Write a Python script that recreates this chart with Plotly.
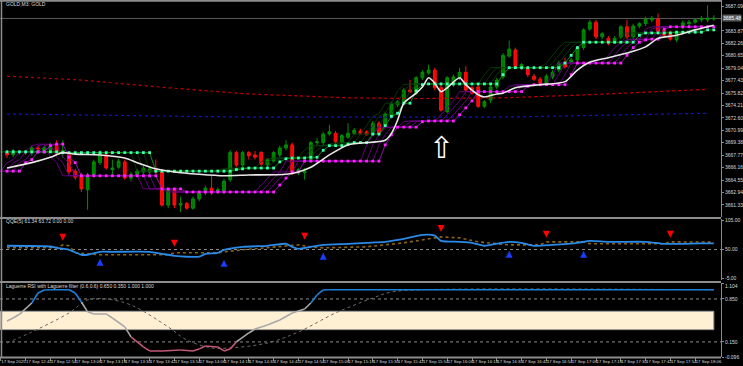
import plotly.graph_objects as go
import pandas as pd

# ---------------- data ----------------
bar_start = "2025-09-17 12:33"
n_bars = 115
times = pd.date_range(bar_start, periods=n_bars, freq="3min")

opens = [3668.2, 3667.8, 3668.1, 3668.2, 3668.1, 3668.7, 3668.4, 3668.4, 3669.1, 3668.2,
         3667.8, 3665.7, 3665.2, 3663.3, 3665.2, 3666.8, 3667.8, 3665.9, 3666.2, 3666.9,
         3664.8, 3665.2, 3665.6, 3665.6, 3666.0, 3665.6, 3661.3, 3663.3, 3661.3, 3661.5,
         3660.9, 3662.1, 3662.9, 3663.5, 3663.0, 3663.0, 3664.6, 3668.1, 3666.5, 3668.1,
         3667.8, 3668.1, 3666.5, 3667.0, 3667.8, 3668.7, 3669.1, 3665.5, 3665.5, 3667.2,
         3669.4, 3669.4, 3670.5, 3670.6, 3669.4, 3670.1, 3670.6, 3670.9, 3670.8, 3670.5,
         3671.9, 3671.6, 3672.7, 3674.3, 3674.7, 3676.2, 3675.8, 3677.8, 3678.4, 3678.8,
         3676.5, 3673.4, 3676.9, 3677.8, 3678.5, 3676.5, 3676.6, 3674.1, 3674.9, 3676.6,
         3677.9, 3680.6, 3681.4, 3679.1, 3679.1, 3678.0, 3677.6, 3677.1, 3677.9, 3678.8,
         3679.8, 3679.8, 3680.1, 3681.7, 3684.1, 3685.0, 3683.1, 3682.9, 3682.4, 3683.1,
         3684.4, 3683.1, 3684.5, 3684.8, 3685.3, 3685.4, 3684.0, 3683.6, 3682.7, 3684.4,
         3684.8, 3685.0, 3685.3, 3685.3, 3685.4]
closes = [3667.8, 3668.3, 3668.2, 3668.1, 3668.7, 3668.6, 3668.7, 3669.0, 3668.2, 3668.4,
          3665.6, 3664.9, 3663.4, 3665.2, 3666.9, 3668.1, 3666.1, 3666.1, 3667.0, 3664.8,
          3665.3, 3665.7, 3666.1, 3666.0, 3665.6, 3661.3, 3663.3, 3661.3, 3661.5, 3660.9,
          3662.1, 3662.9, 3663.5, 3662.9, 3663.3, 3664.4, 3668.1, 3666.5, 3668.1, 3667.7,
          3667.5, 3666.6, 3667.2, 3668.1, 3668.7, 3669.1, 3665.5, 3665.9, 3665.7, 3669.4,
          3669.5, 3670.5, 3670.8, 3669.5, 3670.3, 3670.6, 3671.0, 3670.6, 3670.5, 3671.9,
          3670.6, 3673.1, 3674.4, 3674.7, 3676.2, 3676.0, 3677.8, 3678.5, 3678.8, 3676.5,
          3673.6, 3677.8, 3677.9, 3678.5, 3676.2, 3675.8, 3674.1, 3674.7, 3676.6, 3677.5,
          3680.7, 3681.5, 3679.2, 3679.5, 3678.2, 3677.6, 3677.1, 3678.0, 3678.5, 3679.7,
          3679.2, 3680.1, 3681.7, 3684.0, 3685.0, 3683.1, 3683.5, 3682.3, 3682.9, 3684.4,
          3683.1, 3684.5, 3684.8, 3685.4, 3685.5, 3683.7, 3683.3, 3682.8, 3683.6, 3684.9,
          3685.0, 3685.3, 3685.5, 3685.5, 3685.5]
highs = [3668.4, 3668.6, 3668.4, 3668.4, 3669.0, 3669.0, 3669.0, 3669.4, 3669.7, 3669.7,
         3668.1, 3666.0, 3665.5, 3665.5, 3667.2, 3668.4, 3668.1, 3667.2, 3667.3, 3667.2,
         3665.6, 3666.0, 3666.4, 3666.2, 3667.2, 3665.9, 3663.5, 3663.5, 3662.4, 3661.7,
         3662.4, 3663.1, 3663.8, 3665.2, 3663.6, 3664.7, 3668.4, 3668.3, 3668.3, 3668.3,
         3668.3, 3668.3, 3667.4, 3668.3, 3669.0, 3669.7, 3669.4, 3666.1, 3666.1, 3669.6,
         3670.0, 3670.8, 3671.7, 3670.9, 3670.5, 3671.9, 3671.3, 3671.2, 3671.0, 3672.2,
         3672.2, 3673.4, 3674.7, 3674.9, 3676.5, 3677.5, 3678.0, 3678.8, 3679.5, 3679.1,
         3676.9, 3678.0, 3678.2, 3679.1, 3679.3, 3676.7, 3676.9, 3674.9, 3676.9, 3677.8,
         3681.0, 3682.6, 3681.7, 3679.7, 3679.3, 3678.3, 3677.9, 3678.3, 3678.8, 3680.0,
         3680.4, 3680.4, 3681.9, 3684.2, 3685.3, 3685.3, 3683.7, 3683.2, 3683.2, 3684.6,
         3685.3, 3684.8, 3685.0, 3685.7, 3685.8, 3686.1, 3684.2, 3683.9, 3683.9, 3685.2,
         3685.3, 3685.5, 3685.8, 3687.2, 3685.9]
lows = [3667.4, 3667.5, 3667.8, 3667.8, 3667.7, 3668.3, 3668.2, 3668.2, 3667.9, 3667.4,
        3665.3, 3664.6, 3663.0, 3660.7, 3664.9, 3666.5, 3665.9, 3665.2, 3666.0, 3664.6,
        3664.4, 3664.9, 3665.3, 3665.3, 3665.3, 3661.1, 3660.9, 3660.9, 3660.4, 3660.7,
        3660.7, 3661.8, 3662.6, 3662.6, 3662.8, 3662.8, 3664.3, 3666.2, 3666.2, 3667.2,
        3667.2, 3666.4, 3666.2, 3666.8, 3667.5, 3668.4, 3665.2, 3665.2, 3664.6, 3666.9,
        3669.1, 3669.1, 3670.3, 3669.2, 3669.1, 3669.9, 3670.4, 3670.4, 3670.3, 3670.3,
        3670.4, 3671.3, 3672.5, 3674.0, 3674.4, 3675.8, 3675.6, 3677.5, 3678.2, 3676.2,
        3673.4, 3673.2, 3676.6, 3677.5, 3676.0, 3675.6, 3673.9, 3673.9, 3674.5, 3676.3,
        3677.6, 3680.4, 3679.0, 3678.8, 3677.9, 3677.4, 3676.9, 3676.9, 3677.6, 3678.5,
        3679.0, 3679.6, 3679.8, 3681.4, 3683.9, 3682.8, 3682.8, 3682.0, 3682.2, 3682.8,
        3682.8, 3682.8, 3684.2, 3684.5, 3685.0, 3683.5, 3683.1, 3682.6, 3682.4, 3684.1,
        3684.5, 3684.8, 3685.0, 3685.0, 3685.2]

green_level = ([3668.2] * 9 + [3668.1] * 15 + [3665.7] * 13 + [3665.9, 3666.0] + [3666.1] * 5 +
               [3666.9, 3667.3] + [3667.4] * 3 + [3667.5] * 2 + [3668.4] + [3669.0] * 3 + [3669.2] +
               [3669.4] * 3 + [3670.5] * 2 + [3671.6, 3672.8, 3673.2] + [3674.5] * 2 + [3676.1, 3676.9] +
               [3677.0] * 12 + [3678.2] + [3679.1] * 9 + [3679.7, 3680.7, 3681.7] + [3682.4] * 9 +
               [3683.3] + [3683.6] * 5 + [3683.7] * 5 + [3684.0] * 2)
magenta_level = ([3665.7] * 3 + [3666.8, 3667.2] + [3668.2] * 2 + [3669.0] + [3669.2] * 2 +
                 [3667.5, 3666.8] + [3665.1] * 13 + [3663.4] * 4 + [3663.0] * 15 + [3663.9, 3664.8] +
                 [3665.6] * 2 + [3667.0] * 13 + [3669.1, 3670.4] + [3671.4] * 4 + [3672.1] +
                 [3672.2] * 5 + [3673.0, 3673.9, 3674.8] + [3676.0] * 8 + [3676.7] + [3676.9] * 6 +
                 [3678.2] + [3679.7] * 8 + [3680.7, 3681.7, 3682.4, 3682.7] + [3682.8] * 2 +
                 [3684.1] + [3684.4] * 8)

ma_idx = [0, 4, 7, 9, 11, 15, 19, 21, 24, 27, 31, 35, 39, 45, 47, 49, 52, 55, 61, 62,
          63, 64, 66, 67, 68, 69, 70, 71, 73, 74, 76, 77, 79, 80, 82, 86, 90, 92, 94, 97,
          100, 103, 105, 108, 111, 114]
ma_val = [3666.1, 3666.8, 3667.5, 3668.1, 3667.9, 3667.8, 3667.4, 3666.8, 3666.0, 3665.6,
          3665.3, 3665.1, 3665.2, 3665.3, 3665.6, 3666.2, 3667.8, 3669.1, 3669.7, 3670.6,
          3672.3, 3674.5, 3675.8, 3676.6, 3677.8, 3677.1, 3676.0, 3676.5, 3677.8, 3676.9,
          3675.6, 3675.3, 3675.7, 3675.8, 3676.5, 3676.9, 3677.3, 3678.8, 3679.8, 3680.4,
          3681.0, 3681.8, 3682.9, 3683.3, 3684.0, 3684.6]
red_idx = [0, 12, 26, 39, 55, 66, 80, 94, 113]
red_val = [3678.0, 3677.5, 3676.5, 3675.7, 3675.2, 3675.1, 3675.2, 3675.6, 3676.3]
blue_idx = [0, 39, 80, 113]
blue_val = [3673.1, 3672.7, 3672.7, 3673.2]
bid_price = 3685.48

qqe_idx = [0, 7, 8, 10, 12, 13, 15, 17, 23, 25, 27, 29, 31, 32, 34, 35, 38, 42, 45, 46,
           47, 49, 51, 55, 58, 61, 64, 67, 69, 70, 73, 75, 77, 78, 81, 83, 85, 88, 92, 94,
           97, 103, 106, 109, 112, 114]
qqe_fast = [57.0, 55.6, 53.0, 49.4, 40.2, 40.2, 45.7, 45.7, 45.7, 42.0, 38.3, 36.5, 36.5, 42.0,
            43.9, 49.4, 55.0, 56.9, 60.6, 55.0, 51.3, 55.0, 58.7, 60.6, 62.4, 64.3, 69.8, 77.2,
            76.0, 66.1, 64.3, 62.4, 56.9, 58.7, 64.3, 62.4, 56.9, 58.7, 62.4, 66.1, 64.3, 64.3,
            60.6, 60.6, 61.3, 61.3]
slow_idx = [0, 8, 9, 10, 11, 15, 26, 27, 34, 35, 38, 47, 49, 51, 58, 64, 69, 70, 73, 76,
            81, 86, 87, 93, 94, 106, 107, 114]
qqe_slow = [53.5, 53.5, 58.5, 57.0, 44.0, 40.2, 40.2, 43.9, 43.9, 45.7, 49.4, 58.7, 55.0, 53.0,
            55.0, 62.4, 71.7, 73.5, 71.7, 64.3, 58.7, 58.7, 64.3, 64.3, 60.6, 60.6, 64.3, 63.7]
sell_idx = [9, 27, 48, 70, 87, 107]
sell_val = [66.1, 55.0, 68.0, 82.8, 71.7, 71.7]
buy_idx = [15, 35, 51, 81, 93]
buy_val = [32.8, 31.0, 43.9, 47.6, 47.6]

lag_idx = [0, 1, 2, 4, 5, 6, 7, 10, 11, 12, 13, 14, 16, 17, 19, 20, 22, 23, 25, 28,
           30, 31, 32, 34, 35, 36, 37, 39, 40, 42, 44, 46, 48, 49, 50, 51, 52, 114]
lag_val = [0.49, 0.54, 0.60, 0.785, 0.948, 0.997, 1.0, 1.0, 0.948, 0.80, 0.64, 0.606, 0.606,
           0.54, 0.394, 0.231, 0.068, 0.003, 0.003, 0.019, 0.003, 0.036, 0.084, 0.068, 0.003,
           0.036, 0.15, 0.296, 0.361, 0.427, 0.508, 0.622, 0.687, 0.785, 0.915, 0.997, 1.0, 1.0]
filt_idx = [0, 4, 10, 13, 16, 20, 26, 29, 33, 36, 42, 47, 53, 59, 62, 67, 114]
filt_val = [0.133, 0.312, 0.622, 0.834, 0.85, 0.752, 0.394, 0.182, 0.052, 0.052, 0.133, 0.312,
            0.622, 0.866, 0.964, 1.0, 1.0]

price_ticks = [3687.09, 3683.87, 3682.26, 3680.65, 3679.04, 3677.43, 3675.82, 3674.21, 3672.60,
               3670.99, 3669.38, 3667.77, 3666.16, 3664.55, 3662.94, 3661.33]
qqe_ticks = [105.0, 50.0, -5.0]
lag_ticks = [1.104, 0.850, 0.150, -0.096]
lag_band = (0.35, 0.65)
lag_levels = [0.85, 0.15]
qqe_level = 50.0

# ---------------- layout geometry ----------------
W, H = 743, 366
plot_px = 721
bar_px = 6.2
first_bar_px = 7
t_left = times[0] - pd.Timedelta(minutes=3 * first_bar_px / bar_px)
t_right = times[0] + pd.Timedelta(minutes=3 * (plot_px - first_bar_px) / bar_px)
xdom = [0, plot_px / W]

def T(idx):
    return [times[i] for i in idx]

fig = go.Figure()

# main pane: long MAs
fig.add_trace(go.Scatter(x=T(red_idx), y=red_val, mode="lines",
                         line=dict(color="#c00000", width=1.2, dash="dot"), xaxis="x", yaxis="y"))
fig.add_trace(go.Scatter(x=T(blue_idx), y=blue_val, mode="lines",
                         line=dict(color="#1010d0", width=1.2, dash="dot"), xaxis="x", yaxis="y"))

# channels (shifted copies)
for k in (1, 2, 3):
    sh = pd.Timedelta(minutes=3 * k)
    fig.add_trace(go.Scatter(x=times - sh, y=magenta_level, mode="lines",
                             line=dict(color="#6e0088", width=0.9), xaxis="x", yaxis="y"))
    fig.add_trace(go.Scatter(x=times - sh, y=green_level, mode="lines",
                             line=dict(color="#0a420a", width=0.8), xaxis="x", yaxis="y"))

fig.add_trace(go.Candlestick(x=times, open=opens, high=highs, low=lows, close=closes,
                             increasing=dict(line=dict(color="#009000", width=1), fillcolor="#007800"),
                             decreasing=dict(line=dict(color="#ff1010", width=1), fillcolor="#ff0000"),
                             whiskerwidth=0, xaxis="x", yaxis="y"))

fig.add_trace(go.Scatter(x=times, y=green_level, mode="lines+markers",
                         line=dict(color="#138a13", width=1),
                         marker=dict(symbol="square", size=2.8, color="#3dffb0"), xaxis="x", yaxis="y"))
fig.add_trace(go.Scatter(x=times, y=magenta_level, mode="lines+markers",
                         line=dict(color="#9010a8", width=1),
                         marker=dict(symbol="square", size=2.8, color="#ff20ff"), xaxis="x", yaxis="y"))
fig.add_trace(go.Scatter(x=T(ma_idx), y=ma_val, mode="lines", line_shape="spline",
                         line=dict(color="#e8e8e8", width=1.6, smoothing=0.7), xaxis="x", yaxis="y"))

# QQE pane
fig.add_trace(go.Scatter(x=T(slow_idx), y=qqe_slow, mode="lines",
                         line=dict(color="#8a6418", width=1.6, dash="dot"), xaxis="x2", yaxis="y2"))
fig.add_trace(go.Scatter(x=T(qqe_idx), y=qqe_fast, mode="lines", line_shape="spline",
                         line=dict(color="#2a8ae8", width=1.8, smoothing=0.6), xaxis="x2", yaxis="y2"))
fig.add_trace(go.Scatter(x=T(sell_idx), y=sell_val, mode="markers",
                         marker=dict(symbol="arrow-down", size=7, color="#ff0000"), xaxis="x2", yaxis="y2"))
fig.add_trace(go.Scatter(x=T(buy_idx), y=buy_val, mode="markers",
                         marker=dict(symbol="arrow-up", size=7, color="#1a3cff"), xaxis="x2", yaxis="y2"))

# Laguerre pane
fig.add_trace(go.Scatter(x=T(filt_idx), y=filt_val, mode="lines", line_shape="spline",
                         line=dict(color="#6a6a6a", width=1, dash="dot"), xaxis="x3", yaxis="y3"))
seg = {"#a8a8a8": ([], []), "#1e7fd8": ([], []), "#c2577c": ([], [])}
for a in range(len(lag_idx) - 1):
    m = (lag_val[a] + lag_val[a + 1]) / 2
    col = "#1e7fd8" if m >= 0.8 else ("#c2577c" if m <= 0.18 else "#a8a8a8")
    xs, ys = seg[col]
    xs += [times[lag_idx[a]], times[lag_idx[a + 1]], None]
    ys += [lag_val[a], lag_val[a + 1], None]
for col, (xs, ys) in seg.items():
    fig.add_trace(go.Scatter(x=xs, y=ys, mode="lines", line=dict(color=col, width=1.6),
                             xaxis="x3", yaxis="y3"))

# ---------------- axes ----------------
axfont = dict(family="Liberation Sans", size=5, color="#d8d8d8")
xfont = dict(family="Liberation Sans", size=4.3, color="#d8d8d8")
common_x = dict(domain=xdom, range=[t_left, t_right], showgrid=False, zeroline=False,
                showline=False, fixedrange=True, automargin=False)
tick_times = [pd.Timestamp("2025-09-17 12:30")] + list(pd.date_range("2025-09-17 12:42", "2025-09-17 18:06", freq="12min"))
tick_text = ["17 Sep 2025"] + ["17 Sep " + t.strftime("%H:%M") for t in tick_times[1:]]

yax = dict(side="right", showgrid=False, zeroline=False, showline=True, linecolor="#8a8a8a",
           linewidth=1, ticks="outside", ticklen=2, tickcolor="#8a8a8a", tickfont=axfont,
           tickmode="array", fixedrange=True, automargin=False)

# edge labels of the two lower panes are placed as annotations so they do not collide
qqe_text = ["%.2f" % v for v in qqe_ticks]
lag_text = ["%.3f" % v for v in lag_ticks]

fig.update_layout(
    width=W, height=H, margin=dict(l=0, r=0, t=0, b=0, autoexpand=False),
    paper_bgcolor="#000000", plot_bgcolor="#000000", showlegend=False,
    font=axfont, boxgap=0.35, hovermode=False,
    xaxis=dict(**common_x, anchor="y", showticklabels=False, rangeslider=dict(visible=False)),
    xaxis2=dict(**common_x, anchor="y2", matches="x", showticklabels=False),
    xaxis3=dict(**common_x, anchor="y3", matches="x", tickmode="array", tickvals=tick_times,
                ticktext=tick_text, ticks="outside", ticklen=3, tickcolor="#8a8a8a", tickangle=0,
                ticklabelposition="outside right", tickfont=xfont),
    yaxis=dict(**yax, anchor="x", domain=[1 - 217 / H, 1], range=[3659.76, 3687.87],
               tickvals=price_ticks, ticktext=["%.2f" % v for v in price_ticks]),
    yaxis2=dict(**yax, anchor="x2", domain=[1 - 280 / H, 1 - 219 / H], range=[-6.9, 106.9],
                tickvals=qqe_ticks, ticktext=[qqe_text[0], qqe_text[1], ""]),
    yaxis3=dict(**yax, anchor="x3", domain=[1 - 357 / H, 1 - 283.4 / H], range=[-0.096, 1.104],
                tickvals=lag_ticks, ticktext=["", lag_text[1], lag_text[2], lag_text[3]]),
)

shapes = []
shapes.append(dict(type="rect", xref="x3", yref="y3", x0=t_left, x1=times[-1], y0=lag_band[0],
                   y1=lag_band[1], fillcolor="#fff0d4", line=dict(color="#9a9a9a", width=1), layer="below"))
for lv in lag_levels:
    shapes.append(dict(type="line", xref="x3", yref="y3", x0=t_left, x1=t_right, y0=lv, y1=lv,
                       line=dict(color="#8a8a8a", width=1, dash="dot"), layer="below"))
shapes.append(dict(type="line", xref="x2", yref="y2", x0=t_left, x1=t_right, y0=qqe_level, y1=qqe_level,
                   line=dict(color="#8a8a8a", width=1, dash="dot"), layer="below"))
shapes.append(dict(type="line", xref="x", yref="y", x0=t_left, x1=t_right, y0=bid_price, y1=bid_price,
                   line=dict(color="#5c5c5c", width=1), layer="below"))
for yp in (1 - 0.8 / H, 1 - 218 / H, 1 - 282 / H, 1 - 357.5 / H):
    shapes.append(dict(type="line", xref="paper", yref="paper", x0=0, x1=plot_px / W, y0=yp, y1=yp,
                       line=dict(color="#8c8c8c", width=2)))
shapes.append(dict(type="line", xref="paper", yref="paper", x0=0.002, x1=0.002, y0=1 - 357.5 / H, y1=1,
                   line=dict(color="#8c8c8c", width=1.5)))
fig.update_layout(shapes=shapes)

lab_x = (plot_px + 3) / W
ann = [
    dict(xref="paper", yref="paper", x=0.005, y=1 - 4 / H, text="GOLD,M3: GOLD", showarrow=False,
         xanchor="left", yanchor="middle", font=axfont),
    dict(xref="paper", yref="paper", x=0.005, y=1 - 221.5 / H, text="QQE(5) 61.34 63.72 0.00 0.00",
         showarrow=False, xanchor="left", yanchor="middle", font=axfont),
    dict(xref="paper", yref="paper", x=0.005, y=1 - 285.5 / H,
         text="Laguerre RSI with Laguerre filter (0.6,0.6) 0.650 0.350 1.000 1.000",
         showarrow=False, xanchor="left", yanchor="middle", font=axfont),
    dict(xref="paper", yref="paper", x=lab_x, y=1 - 277.5 / H, text=qqe_text[2], showarrow=False,
         xanchor="left", yanchor="middle", font=axfont, borderpad=0),
    dict(xref="paper", yref="paper", x=lab_x, y=1 - 286.0 / H, text=lag_text[0], showarrow=False,
         xanchor="left", yanchor="middle", font=axfont, borderpad=0),
    dict(xref="paper", yref="y", x=plot_px / W + 0.001, y=bid_price, text="3685.48", showarrow=False,
         xanchor="left", yanchor="middle", bgcolor="#5a5a5a", borderpad=0,
         font=dict(family="Liberation Sans", size=5, color="#ffffff")),
    dict(xref="x", yref="y", x=times[70], y=3668.7, text="⇧", showarrow=False,
         font=dict(family="DejaVu Sans", size=30, color="#ffffff")),
]
fig.update_layout(annotations=ann)

fig.write_html("out.html", config={"displayModeBar": False, "staticPlot": True},
               post_script="document.body.style.margin='0';document.body.style.padding='0';"
                           "document.body.style.overflow='hidden';document.body.style.background='#000';")
